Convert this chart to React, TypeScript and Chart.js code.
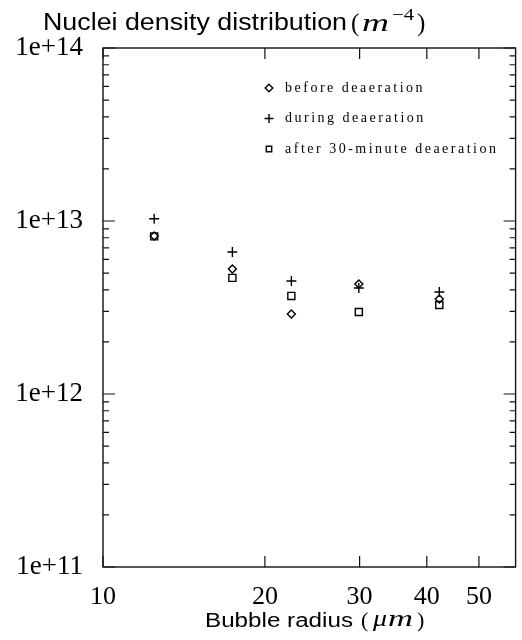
import React, { useEffect, useRef } from "react";
import { Chart, registerables } from "chart.js";
import { drawPoint } from "chart.js/helpers";

Chart.register(...registerables);

// ---- data ----
const bubbleRadius = [12.45, 17.4, 22.4, 29.9, 42.2];
const beforeDeaeration = [8.2e12, 5.28e12, 2.9e12, 4.32e12, 3.54e12];
const duringDeaeration = [1.03e13, 6.62e12, 4.5e12, 4.1e12, 3.89e12];
const afterDeaeration = [8.15e12, 4.69e12, 3.69e12, 2.98e12, 3.27e12];

const yTicks = [1e11, 1e12, 1e13, 1e14];
const yTickLabels = ["1e+11", "1e+12", "1e+13", "1e+14"];
const xTicks = [10, 20, 30, 40, 50];
const xTickLabels = ["10", "20", "30", "40", "50"];
const legendLabels = [
  "before deaeration",
  "during deaeration",
  "after 30-minute deaeration",
];
const pointStyles = ["rectRot", "cross", "rect"];
const pointRadii = [4, 5, 5];

const SANS = "'Liberation Sans', Arial, sans-serif";
const SERIF = "'Liberation Serif', 'Times New Roman', serif";

function scaledText(
  ctx: CanvasRenderingContext2D,
  text: string,
  font: string,
  x: number,
  y: number,
  width?: number
) {
  ctx.save();
  ctx.font = font;
  ctx.textAlign = "left";
  ctx.textBaseline = "alphabetic";
  const w = ctx.measureText(text).width;
  ctx.translate(x, y);
  if (width) ctx.scale(width / w, 1);
  ctx.fillText(text, 0, 0);
  ctx.restore();
}

const framePlugin = {
  id: "frameTicks",
  afterDraw(chart: any) {
    const { ctx, chartArea: a } = chart;
    const xs = chart.scales.x;
    const ys = chart.scales.y;
    ctx.save();
    ctx.strokeStyle = "#111";
    ctx.lineWidth = 1.4;
    ctx.strokeRect(a.left, a.top, a.right - a.left, a.bottom - a.top);
    ctx.lineWidth = 1.2;
    ctx.beginPath();
    for (let i = 0; i < yTicks.length; i++) {
      for (let m = 1; m <= 9; m++) {
        if (i === yTicks.length - 1 && m > 1) break;
        const v = yTicks[i] * m;
        const py = ys.getPixelForValue(v);
        const len = m === 1 ? 12 : 6;
        ctx.moveTo(a.left, py);
        ctx.lineTo(a.left + len, py);
        ctx.moveTo(a.right, py);
        ctx.lineTo(a.right - len, py);
      }
    }
    for (const v of xTicks) {
      const px = xs.getPixelForValue(v);
      ctx.moveTo(px, a.bottom);
      ctx.lineTo(px, a.bottom - 11);
      ctx.moveTo(px, a.top);
      ctx.lineTo(px, a.top + 11);
    }
    ctx.stroke();
    ctx.restore();
  },
};

const textPlugin = {
  id: "texts",
  afterDraw(chart: any) {
    const { ctx, chartArea: a } = chart;
    ctx.save();
    ctx.fillStyle = "#000";
    // Title
    scaledText(ctx, "Nuclei density distribution", `23px ${SANS}`, 43, 30, 304);
    scaledText(ctx, "(", `25px ${SERIF}`, 351, 31);
    scaledText(ctx, "m", `italic 26px ${SERIF}`, 362, 31, 27);
    scaledText(ctx, "\u22124", `17px ${SERIF}`, 392, 20, 22);
    scaledText(ctx, ")", `25px ${SERIF}`, 417, 31);
    // X axis title
    scaledText(ctx, "Bubble radius", `20px ${SANS}`, 205, 627, 148);
    scaledText(ctx, "(", `22px ${SERIF}`, 361, 627);
    scaledText(ctx, "\u03bc", `italic 23px ${SERIF}`, 373, 626, 14);
    scaledText(ctx, "m", `italic 23px ${SERIF}`, 388, 626, 25);
    scaledText(ctx, ")", `22px ${SERIF}`, 417, 627);

    // Legend
    const lx = a.left + 166;
    const ly0 = a.top + 40;
    for (let i = 0; i < legendLabels.length; i++) {
      const y = ly0 + i * 30.5;
      ctx.save();
      ctx.strokeStyle = "#000";
      ctx.fillStyle = "rgba(0,0,0,0)";
      ctx.lineWidth = 1.4;
      drawPoint(
        ctx,
        { pointStyle: pointStyles[i], radius: i === 1 ? 4.5 : 3.8, borderWidth: 1.4, rotation: 0 } as any,
        lx,
        y
      );
      ctx.restore();
      ctx.save();
      ctx.fillStyle = "#000";
      ctx.font = `14px ${SERIF}`;
      (ctx as any).letterSpacing = "2.5px";
      ctx.textBaseline = "middle";
      ctx.textAlign = "left";
      ctx.fillText(legendLabels[i], lx + 16, y);
      ctx.restore();
    }
    ctx.restore();
  },
};

export default function App() {
  const ref = useRef<HTMLCanvasElement | null>(null);
  useEffect(() => {
    document.body.style.margin = "0";
    const canvas = ref.current!;
    const mk = (vals: number[]) => bubbleRadius.map((r, i) => ({ x: r, y: vals[i] }));
    const common = {
      showLine: false,
      borderColor: "#000",
      backgroundColor: "rgba(0,0,0,0)",
      borderWidth: 1.4,
    };
    const chart = new Chart(canvas, {
      type: "scatter",
      data: {
        datasets: [
          { ...common, label: legendLabels[0], data: mk(beforeDeaeration), pointStyle: pointStyles[0], pointRadius: pointRadii[0] },
          { ...common, label: legendLabels[1], data: mk(duringDeaeration), pointStyle: pointStyles[1], pointRadius: pointRadii[1] },
          { ...common, label: legendLabels[2], data: mk(afterDeaeration), pointStyle: pointStyles[2], pointRadius: pointRadii[2] },
        ] as any,
      },
      options: {
        animation: false,
        responsive: false,
        devicePixelRatio: 1,
        layout: { padding: { left: 0, right: 2, top: 48, bottom: 0 } },
        plugins: { legend: { display: false }, title: { display: false }, tooltip: { enabled: false } },
        scales: {
          x: {
            type: "logarithmic",
            min: 10,
            max: 58.5,
            grid: { display: false, drawTicks: false },
            border: { display: false },
            afterBuildTicks: (s: any) => {
              s.ticks = xTicks.map((v) => ({ value: v }));
            },
            afterFit: (s: any) => {
              s.height = 73;
            },
            ticks: {
              autoSkip: false,
              maxRotation: 0,
              padding: 15,
              color: "#000",
              font: { family: SERIF, size: 26 },
              callback: (v: any) => xTickLabels[xTicks.indexOf(Number(v))],
            },
          },
          y: {
            type: "logarithmic",
            min: 1e11,
            max: 1e14,
            grid: { display: false, drawTicks: false },
            border: { display: false },
            afterBuildTicks: (s: any) => {
              s.ticks = yTicks.map((v) => ({ value: v }));
            },
            afterFit: (s: any) => {
              s.width = 103;
            },
            ticks: {
              autoSkip: false,
              padding: 20,
              color: "#000",
              font: { family: SERIF, size: 27 },
              callback: (v: any) => yTickLabels[yTicks.indexOf(Number(v))],
            },
          },
        },
      } as any,
      plugins: [framePlugin, textPlugin],
    });
    return () => chart.destroy();
  }, []);
  return (
    <div style={{ width: 522, height: 640 }}>
      <canvas ref={ref} width={522} height={640} style={{ display: "block" }} />
    </div>
  );
}
